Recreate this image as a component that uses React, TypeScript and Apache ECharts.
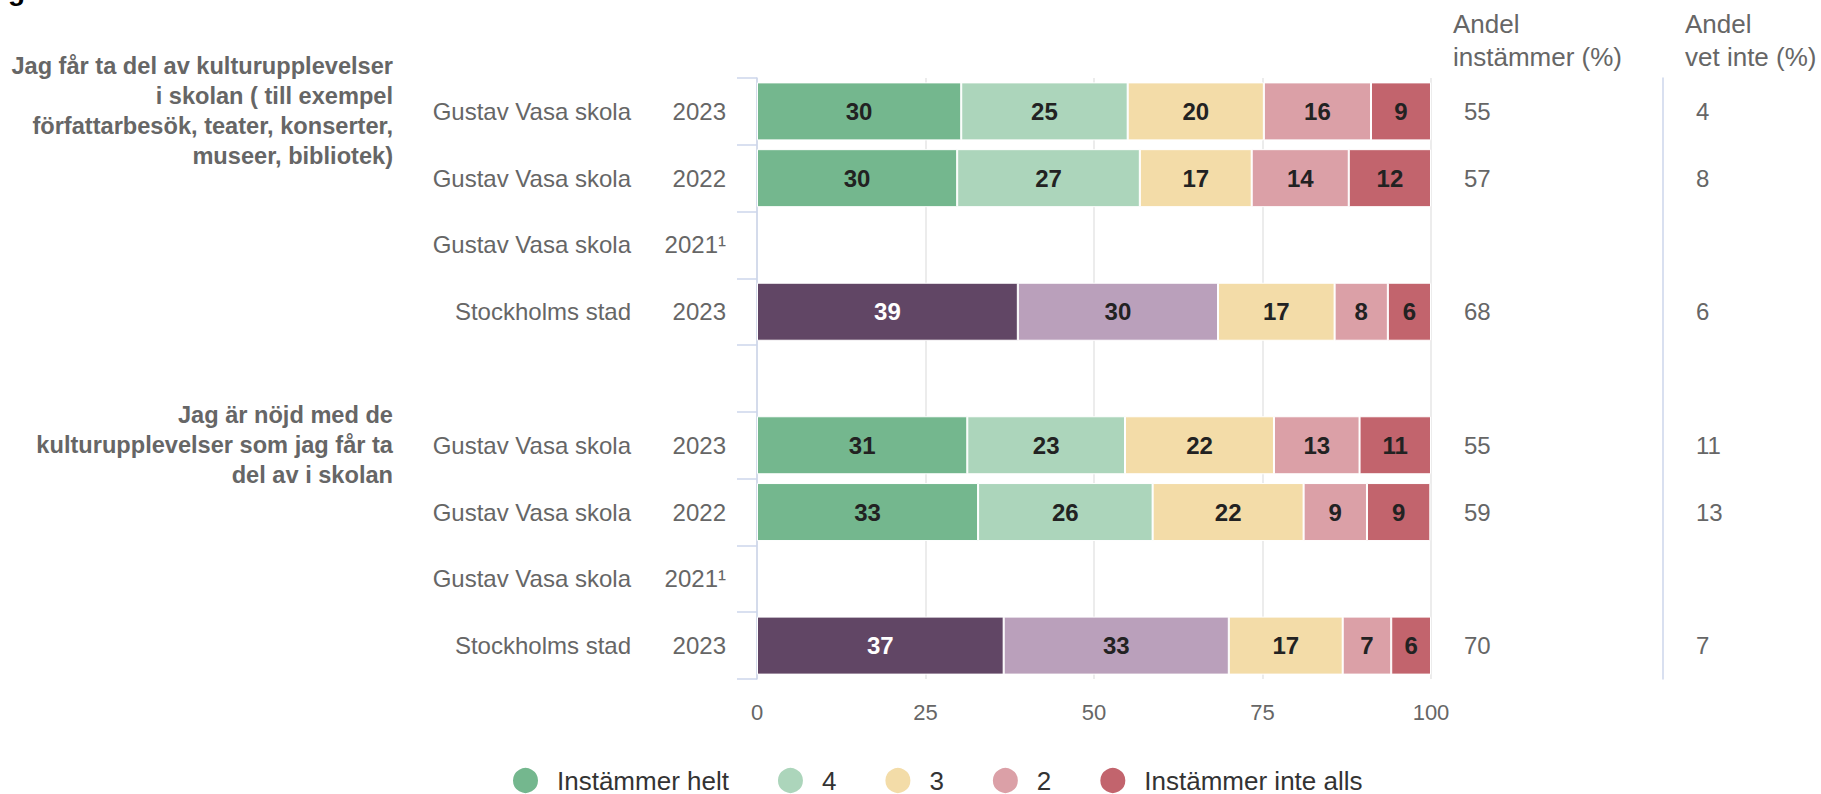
import React, { useEffect, useRef } from "react";
import * as echarts from "echarts";

const FONT = "'Liberation Sans', Arial, Helvetica, sans-serif";

const rowSchool = [
  "Gustav Vasa skola",
  "Gustav Vasa skola",
  "Gustav Vasa skola",
  "Stockholms stad",
  "",
  "Gustav Vasa skola",
  "Gustav Vasa skola",
  "Gustav Vasa skola",
  "Stockholms stad",
];
const rowYear = ["2023", "2022", "2021¹", "2023", "", "2023", "2022", "2021¹", "2023"];
const categories = rowSchool.map((_, i) => "r" + i);

const questions = [
  "Jag får ta del av kulturupplevelser\ni skolan ( till exempel\nförfattarbesök, teater, konserter,\nmuseer, bibliotek)",
  "Jag är nöjd med de\nkulturupplevelser som jag får ta\ndel av i skolan",
];
const questionRows = [0, 5];

const seriesNames = ["Instämmer helt", "4", "3", "2", "Instämmer inte alls"];
const seriesColors = ["#74b78e", "#acd5bb", "#f3dca8", "#dba0a7", "#c2646d"];
const stadColors = ["#614665", "#baa0bb"];

const helt = [30.3, 29.7, null, 38.7, null, 31.2, 32.8, null, 36.6];
const fyra = [24.7, 27.1, null, 29.7, null, 23.4, 25.9, null, 33.4];
const tre = [20.2, 16.6, null, 17.3, null, 22.1, 22.4, null, 16.9];
const tva = [15.9, 14.4, null, 7.9, null, 12.7, 9.4, null, 7.2];
const inteAlls = [8.9, 12.2, null, 6.4, null, 10.6, 9.4, null, 5.9];
const seriesValues = [helt, fyra, tre, tva, inteAlls];

const andelInstammer = [55, 57, null, 68, null, 55, 59, null, 70];
const andelVetInte = [4, 8, null, 6, null, 11, 13, null, 7];

const xTicks = { min: 0, max: 100, interval: 25 };

export default function App() {
  const ref = useRef<HTMLDivElement>(null);

  useEffect(() => {
    document.body.style.margin = "0";
    if (!ref.current) return;
    const chart = echarts.init(ref.current, undefined, { renderer: "svg" });

    const series = seriesValues.map((vals, si) => ({
      name: seriesNames[si],
      type: "bar",
      stack: "total",
      barWidth: 58,
      itemStyle: { color: seriesColors[si], borderColor: "#ffffff", borderWidth: 1 },
      label: {
        show: true,
        position: "inside",
        fontFamily: FONT,
        fontSize: 24,
        fontWeight: "bold",
        color: "#222222",
        formatter: (p: any) => (p.value == null ? "" : String(Math.round(p.value))),
      },
      data: vals.map((v, i) => {
        if (rowSchool[i] === "Stockholms stad" && si < 2) {
          return {
            value: v,
            itemStyle: { color: stadColors[si] },
            label: { color: si === 0 ? "#ffffff" : "#222222" },
          };
        }
        return v;
      }),
    }));

    const valueAxis = (vals: (number | null)[], offset: number, showLine: boolean) => ({
      type: "category",
      data: categories,
      inverse: true,
      position: "right",
      offset,
      axisLine: { show: showLine, lineStyle: { color: "#ccd6eb", width: 1.5 } },
      axisTick: { show: false },
      splitLine: { show: false },
      axisLabel: {
        margin: 33,
        align: "left",
        fontFamily: FONT,
        fontSize: 24,
        color: "#666666",
        formatter: (_v: string, i: number) => (vals[i] == null ? "" : String(vals[i])),
      },
    });

    chart.setOption({
      animation: false,
      textStyle: { fontFamily: FONT },
      grid: { left: 757, right: 390, top: 78, bottom: 115, containLabel: false },
      legend: {
        data: seriesNames,
        left: 511,
        top: 766,
        icon: "circle",
        itemWidth: 27,
        itemHeight: 27,
        itemGap: 47,
        padding: 0,
        textStyle: {
          fontFamily: FONT,
          fontSize: 26,
          lineHeight: 26,
          color: "#333333",
          padding: [0, 0, 0, 13],
        },
      },
      xAxis: {
        type: "value",
        min: xTicks.min,
        max: xTicks.max,
        interval: xTicks.interval,
        axisLine: { show: false },
        axisTick: { show: false },
        splitLine: { show: true, lineStyle: { color: "#e6e6e6", width: 1.5 } },
        axisLabel: { margin: 22, fontFamily: FONT, fontSize: 22, color: "#666666" },
      },
      yAxis: [
        {
          type: "category",
          data: categories,
          inverse: true,
          axisLine: { show: true, lineStyle: { color: "#ccd6eb", width: 1.5 } },
          axisTick: { show: true, length: 20, lineStyle: { color: "#ccd6eb", width: 1.5 } },
          axisLabel: {
            margin: 31,
            formatter: (_v: string, i: number) =>
              rowSchool[i] ? `{n|${rowSchool[i]}}{y|${rowYear[i]}}` : "",
            rich: {
              n: { fontFamily: FONT, fontSize: 24, color: "#666666" },
              y: { fontFamily: FONT, fontSize: 24, color: "#666666", width: 95, align: "right" },
            },
          },
        },
        valueAxis(andelInstammer, 0, false),
        valueAxis(andelVetInte, 232, true),
      ],
      series,
    });

    const qTexts = questions.map((q, k) => {
      const y = chart.convertToPixel({ yAxisIndex: 0 }, questionRows[k]) as number;
      return {
        type: "text",
        x: 393,
        y,
        style: {
          text: q,
          fontFamily: FONT,
          fontSize: 23.6,
          fontWeight: "bold",
          lineHeight: 30,
          fill: "#666666",
          align: "right",
          verticalAlign: "middle",
        },
      };
    });

    chart.setOption({
      graphic: [
        ...qTexts,
        {
          type: "text",
          x: 1453,
          y: 7,
          style: {
            text: "Andel\ninstämmer (%)",
            fontFamily: FONT,
            fontSize: 26,
            lineHeight: 33,
            fill: "#666666",
            align: "left",
            verticalAlign: "top",
          },
        },
        {
          type: "text",
          x: 1685,
          y: 7,
          style: {
            text: "Andel\nvet inte (%)",
            fontFamily: FONT,
            fontSize: 26,
            lineHeight: 33,
            fill: "#666666",
            align: "left",
            verticalAlign: "top",
          },
        },
        {
          type: "text",
          x: 8,
          y: -10,
          style: {
            text: "g",
            fontFamily: FONT,
            fontSize: 28,
            fontWeight: "bold",
            fill: "#000000",
            align: "left",
            verticalAlign: "middle",
          },
        },
      ],
    });

    return () => chart.dispose();
  }, []);

  return <div ref={ref} style={{ width: 1821, height: 794 }} />;
}
